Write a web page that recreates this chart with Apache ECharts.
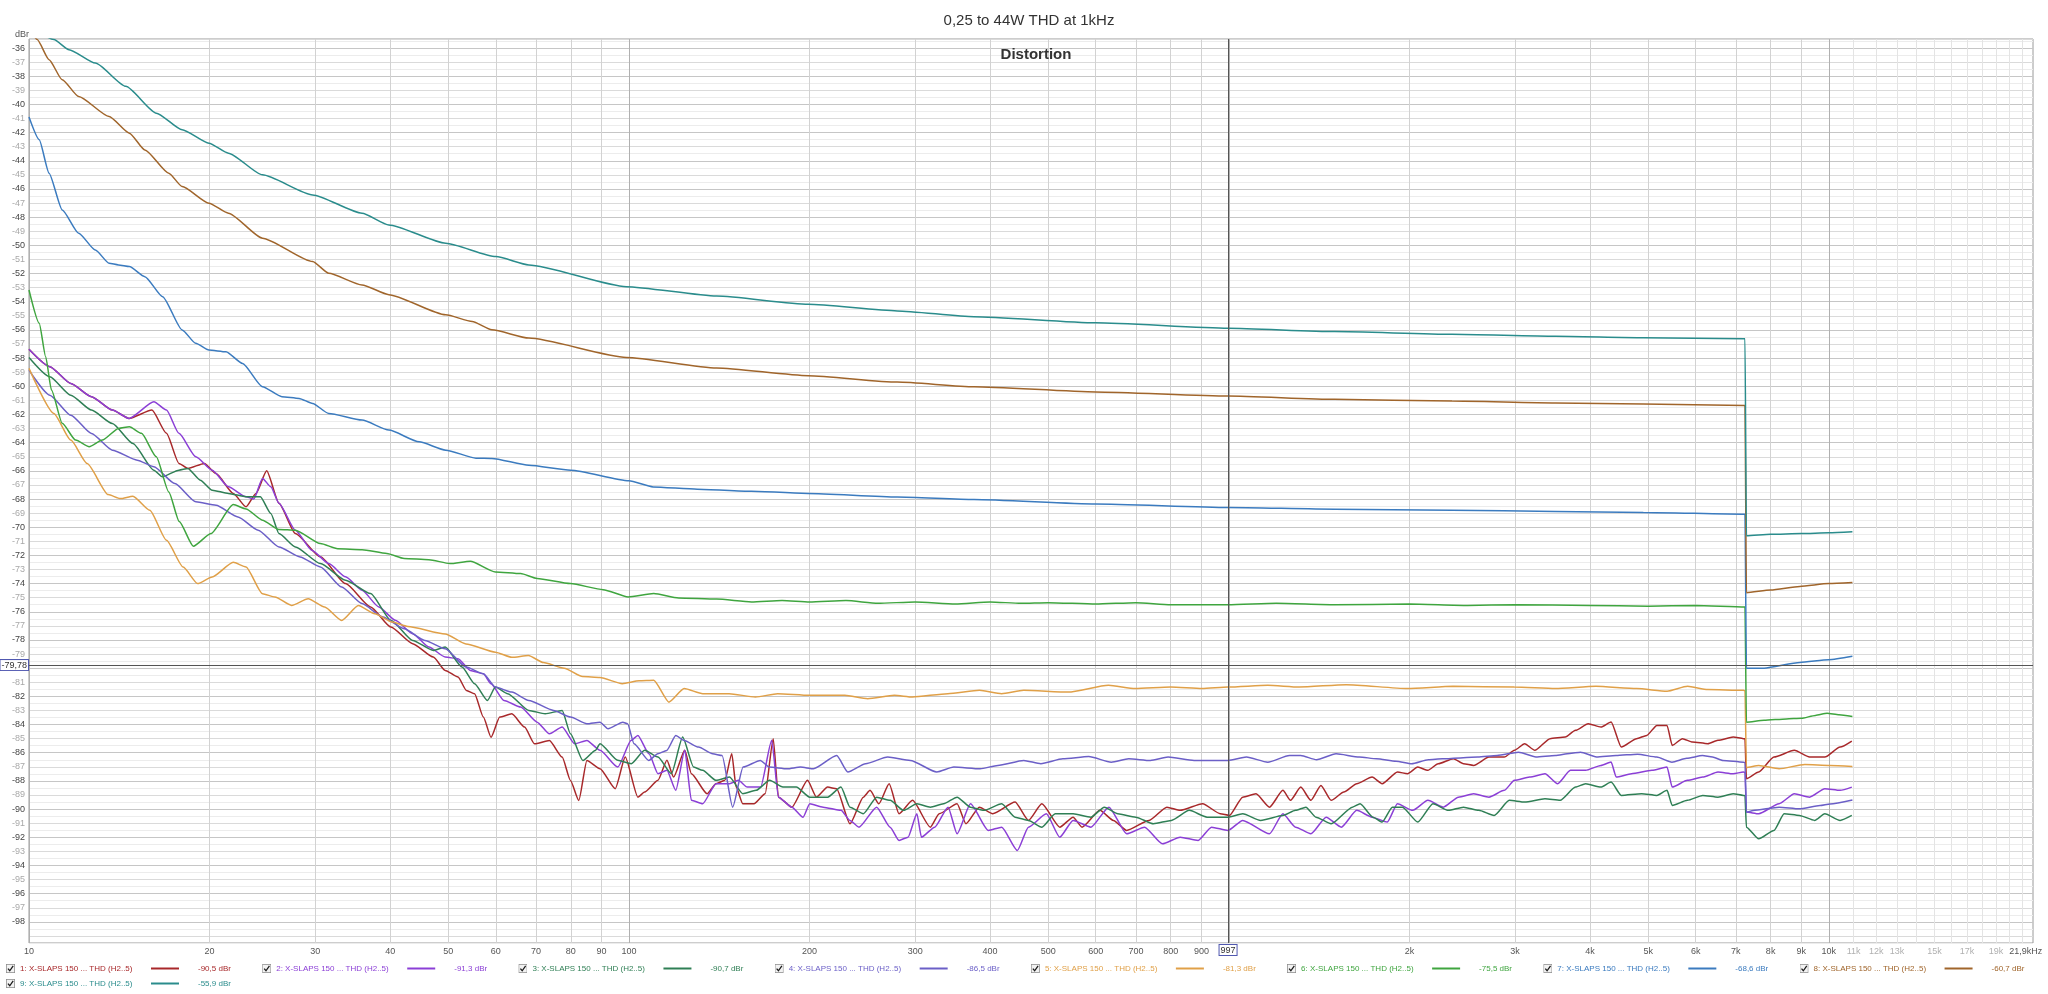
<!DOCTYPE html>
<html><head><meta charset="utf-8">
<script src="https://cdn.jsdelivr.net/npm/echarts@6/dist/echarts.min.js"></script>
<style>html,body{margin:0;padding:0;background:#fff}#c{width:2048px;height:994px}</style>
</head><body><div id="c"></div>
<script>
// ---------- data ----------
const seriesNames = [
  '1: X-SLAPS 150 ... THD (H2..5)','2: X-SLAPS 150 ... THD (H2..5)','3: X-SLAPS 150 ... THD (H2..5)',
  '4: X-SLAPS 150 ... THD (H2..5)','5: X-SLAPS 150 ... THD (H2..5)','6: X-SLAPS 150 ... THD (H2..5)',
  '7: X-SLAPS 150 ... THD (H2..5)','8: X-SLAPS 150 ... THD (H2..5)','9: X-SLAPS 150 ... THD (H2..5)'];
const legendValues = ['-90,5 dBr','-91,3 dBr','-90,7 dBr','-86,5 dBr','-81,3 dBr','-75,5 dBr','-68,6 dBr','-60,7 dBr','-55,9 dBr'];
const seriesColors = ['#a8282a','#8b3fd6','#2f7f55','#6b5fc7','#e0a048','#3fa53f','#3b7bbf','#a0652b','#2a8c8c'];

const freq1 = [10,10.83,11.74,12.71,13.77,14.68,16.03,16.95,17.78,18.4,19.6,20.5,21.9,23,23.9,24.9,26.1,27.8,30.6,33.7,37.1,40.1,43.6,47.2,49.4,51.9,53.6,55.3,57.2,58.9,60.9,63.8,67,69.6,73.7,77.4,79.9,82.5,85.1,
 89.5,94.9,98.6,103.5,106.2,111.8,115.7,118.7,123.9,127.1,135,139.7,144.5,148.4,150.9,154.8,161.6,168.7,174,177.5,186.9,198.5,205.4,214.4,221.9,233.6,245.9,252.3,261,271.5,282,297,318,329,352.4,364.6,383.8,404.1,440.3,463.4,487.9,522.6,550,569.3,609.6,642,675.6,736.1,788.3,829.8,904.3,967.9,1001.9,1054.7,1110,1169,1230.6,
 1267,1318,1370,1424,1481,1555,1634,1733,1801,1910,1986,2065,2147,2233,2367,2461,2559,2714,2878,2993,3112,3236,3431,3638,3783,3972,4171,4337,4510,4782,4972,5170,5376,5483,5702,5928,6286,6536,6931,7207,7250,7290,7642,8103,8762,9290,9850,10444,10925];
const db1 = [-57.38,-58.61,-59.8,-60.74,-61.69,-62.28,-61.69,-63.34,-65.47,-65.83,-65.47,-66.19,-67.6,-68.55,-67.6,-66.0,-68.3,-70.45,-72.1,-74.0,-75.66,-77.08,-78.26,-79.21,-80.16,-80.63,-81.58,-81.81,-83.47,-84.9,-83.47,-83.24,-84.18,-85.37,-85.13,-86.31,-87.97,-89.39,-86.55,
 -87.13,-88.55,-86.31,-89.15,-88.79,-87.96,-86.54,-87.73,-85.83,-87.49,-88.91,-88.2,-87.96,-86.07,-88.44,-89.62,-89.62,-88.91,-85.0,-89.15,-89.86,-87.96,-89.15,-88.44,-88.55,-91.04,-89.15,-88.67,-89.62,-88.2,-90.33,-89.38,-91.28,-90.33,-89.62,-91.04,-89.86,-90.33,-89.5,-90.8,-89.62,-91.28,-90.57,-91.28,-90.09,-90.8,-91.51,-90.8,-89.86,-90.09,-89.62,-90.33,-90.45,-89.15,-88.91,-89.86,-88.67,
 -89.38,-88.44,-89.38,-88.32,-89.38,-88.79,-88.2,-87.73,-88.2,-87.37,-87.49,-87.02,-87.25,-86.78,-86.42,-86.78,-86.9,-86.31,-86.31,-85.83,-85.36,-85.83,-85.0,-84.89,-84.41,-83.94,-84.18,-83.82,-85.6,-85.0,-84.77,-84.06,-84.06,-85.48,-85.0,-85.24,-85.36,-85.12,-84.89,-85.0,-85.0,-87.84,-87.37,-86.31,-85.83,-86.31,-86.31,-85.6,-85.17];

const freq2 = [10,10.83,11.74,12.71,13.77,14.68,16.15,16.95,17.78,18.97,20.2,21.5,23,23.7,24.5,25.3,26.1,27.8,29.6,31.6,33.7,35.9,38.3,40.8,43.6,46.4,49.4,51.9,54.4,57.2,58.9,61.9,66,70.3,73.7,77.4,81.2,85.1,
 89.5,95.8,100.9,103.5,108,111.8,115.7,119.7,123.9,127.1,132.7,139.7,147.1,152.2,157.5,165.8,173,177.5,186.9,195.1,200.2,210.7,225.7,233.6,241.8,258.8,272.5,282,291.9,302,307.3,323.4,340.4,352.4,371,397.2,418.2,444.1,463.4,496.4,522.6,550,589,631,675.6,723.6,775,829.8,888.8,935.7,996.8,1054.7,1169,1230.6,
 1292,1370,1453,1540,1634,1733,1837,1910,2025,2147,2277,2414,2559,2714,2878,2993,3173,3365,3533,3710,3933,4171,4337,4423,4691,5073,5376,5483,5814,6165,6536,6931,7207,7250,7290,7642,8263,8762,9290,9850,10444,10925];
const db2 = [-57.38,-58.61,-59.8,-60.74,-61.69,-62.28,-61.1,-61.69,-63.34,-65.0,-65.95,-67.13,-67.84,-68.0,-66.54,-67.13,-68.3,-70.21,-71.63,-72.58,-73.52,-74.47,-75.66,-76.6,-77.55,-78.5,-79.21,-79.33,-80.16,-80.4,-81.1,-82.29,-82.76,-83.83,-84.66,-84.18,-85.37,-85.13,
 -85.83,-87.02,-85.12,-84.77,-86.07,-87.49,-87.25,-88.67,-85.83,-89.38,-89.62,-88.2,-88.2,-87.96,-88.44,-88.44,-85.12,-89.15,-89.86,-90.57,-89.62,-89.86,-90.09,-90.8,-91.28,-89.86,-91.28,-92.22,-91.99,-90.33,-91.99,-91.28,-89.86,-91.75,-89.62,-91.51,-91.28,-92.93,-91.28,-90.33,-91.99,-90.8,-91.28,-89.86,-91.75,-91.28,-92.46,-91.99,-92.22,-91.28,-91.51,-90.8,-91.75,-90.33,
 -91.28,-91.75,-90.57,-91.28,-90.09,-90.57,-90.92,-89.62,-90.09,-89.38,-89.86,-89.15,-88.91,-89.15,-88.67,-87.96,-87.73,-87.49,-88.2,-87.25,-87.25,-86.9,-86.66,-87.73,-87.49,-87.25,-87.02,-88.44,-87.96,-87.73,-87.37,-87.49,-87.37,-87.4,-90.21,-90.33,-89.62,-88.91,-89.15,-88.55,-88.67,-88.44];

const freq3 = [10,10.83,11.74,12.71,13.77,14.9,16.15,16.68,17.78,18.4,19.3,20.2,21.5,23,24.3,25.3,26.1,27.8,30.6,33.7,37.1,40.1,43.6,47.2,49.4,52.7,55.3,58.1,59.9,62.8,68.1,72.5,77.4,79.9,83.8,87.9,
 89.5,95.8,100.9,106.2,111.8,117.7,122.9,128.2,132.7,139.7,147.1,154.8,162.9,171.6,180.6,190.1,200.2,214.4,225.7,233.6,245.9,258.8,272.5,286.9,302,318,334.6,352.4,371,390.5,418.2,440.3,463.4,487.9,513.6,550,589,620.1,652.9,699.3,748.8,802.1,858.9,919.7,996.8,1054.7,1129.6,1230.6,
 1292,1344,1397,1481,1607,1655,1739,1801,1873,1947,2065,2189,2322,2461,2610,2768,2935,3112,3365,3567,3783,3933,4171,4337,4510,4876,5170,5376,5483,5814,6165,6536,6931,7207,7250,7290,7642,8103,8426,8935,9474,9850,10444,10925];
const db3 = [-57.95,-59.32,-60.63,-61.69,-62.64,-64.06,-65.95,-66.42,-65.95,-65.83,-66.66,-67.37,-67.6,-67.84,-67.84,-69.03,-70.45,-71.4,-72.58,-73.76,-74.71,-76.6,-78.03,-78.74,-78.5,-79.92,-81.1,-82.29,-81.34,-81.81,-83.0,-83.24,-83.0,-84.66,-86.55,-85.84,
 -85.36,-86.54,-86.78,-85.83,-86.31,-87.49,-84.89,-87.02,-87.25,-87.96,-87.73,-88.91,-88.67,-87.96,-88.44,-88.44,-89.15,-89.15,-88.44,-89.86,-90.33,-89.15,-89.38,-90.09,-89.62,-89.86,-89.62,-89.15,-89.86,-90.09,-89.62,-90.57,-90.8,-91.28,-90.33,-90.33,-90.57,-89.86,-90.33,-90.57,-91.04,-90.8,-90.09,-90.57,-90.57,-90.33,-90.8,-90.45,
 -90.09,-89.86,-90.57,-91.04,-89.86,-89.62,-90.57,-90.92,-89.86,-89.86,-90.92,-89.62,-90.09,-89.86,-90.09,-90.45,-89.38,-89.5,-89.27,-89.38,-88.44,-88.2,-88.44,-88.08,-89.03,-88.91,-89.03,-88.67,-89.74,-89.38,-89.03,-89.15,-88.91,-89.03,-89.05,-91.28,-92.11,-91.51,-90.33,-90.45,-90.8,-90.33,-90.8,-90.45];

const freq4 = [10,10.83,11.74,12.71,13.77,15.15,16.15,17.5,18.97,20.5,22.3,24.1,26.1,28.3,30.6,33.2,35.9,38.9,42.2,45.7,49.4,53.5,57.2,59.9,63.8,68.1,74.9,79.9,85.1,
 89.5,92.3,97.7,99.5,102,107.9,111.7,115.6,119.7,123.6,130.6,137.9,143,148.9,155,165.6,171.4,183.6,193.2,203,222,231.7,248,270,294.5,326,348,385,412,455,486,529,584,637,681,740,792,875,997,1070,1161,1262,
 1318,1400,1509,1650,1763,1900,2018,2150,2270,2600,2800,3040,3250,3500,3700,3857,4100,4420,4800,5168,5478,5800,6160,6400,6660,7207,7250,7290,7480,8262,8932,9670,10050,10950];
const db4 = [-58.85,-60.63,-62.05,-63.35,-64.53,-65.24,-65.71,-66.9,-68.2,-68.44,-69.27,-70.21,-71.4,-72.11,-72.82,-74.24,-75.42,-76.37,-77.2,-78.03,-78.62,-79.92,-80.4,-81.34,-81.7,-82.29,-83.0,-83.47,-83.95,
 -83.83,-84.3,-83.83,-83.95,-85.37,-86.55,-86.08,-85.84,-84.78,-85.13,-85.6,-86.08,-86.2,-89.86,-87.02,-86.55,-87.02,-87.14,-87.02,-87.14,-86.2,-87.37,-86.78,-86.31,-86.55,-87.37,-87.02,-87.14,-86.9,-86.55,-86.78,-86.43,-86.27,-86.67,-86.43,-86.55,-86.31,-86.55,-86.55,-86.31,-86.67,-86.2,
 -86.2,-86.5,-86.08,-86.3,-86.43,-86.6,-86.78,-86.5,-86.43,-86.31,-86.2,-85.96,-86.3,-86.2,-86.05,-85.96,-86.3,-86.2,-86.1,-86.31,-86.67,-86.4,-86.2,-86.3,-86.55,-86.67,-86.7,-90.22,-90.1,-89.86,-89.98,-89.75,-89.63,-89.35];

const freq5 = [10,11,11.74,12.5,13.55,14.2,14.9,15.9,16.95,18.07,19.1,20.2,21.9,23,24.5,25.7,27.4,29.2,31.1,33.2,35.4,37.7,40.3,42.8,49.4,53.5,59.9,63.8,68,72,78,83.7,89.5,97.5,104,110,116.6,123.6,132.8,146.9,162.5,177,200,229,250,277,297,340,384,418,455,540,630,698,800,902,997,1161,1310,1570,1986,2366,2992,3500,4090,4784,5376,5815,6285,7207,7250,7290,7642,8263,9120,10050,10950];
const db5 = [-58.73,-61.93,-63.82,-65.48,-67.68,-67.97,-67.8,-68.8,-70.93,-72.83,-74.0,-73.53,-72.49,-72.82,-74.72,-74.95,-75.55,-75.07,-75.66,-76.61,-75.55,-76.14,-76.73,-77.04,-77.57,-78.28,-78.87,-79.23,-79.1,-79.6,-80.0,-80.6,-80.67,-81.1,-80.9,-80.86,-82.41,-81.45,-81.81,-81.81,-82.05,-81.81,-81.93,-81.93,-82.17,-81.93,-82.05,-81.81,-81.57,-81.81,-81.57,-81.7,-81.22,-81.45,-81.34,-81.45,-81.34,-81.22,-81.34,-81.17,-81.45,-81.29,-81.34,-81.45,-81.29,-81.45,-81.64,-81.29,-81.52,-81.57,-81.6,-87.05,-86.9,-87.14,-86.83,-86.9,-86.97];

const freq6 = [10,10.4,10.66,10.9,11.36,11.96,12.6,13.25,14.1,14.7,15.4,16.3,17.1,17.8,18.79,20.1,21.9,23,24.5,26.1,27.8,30.6,32.7,35.9,39.5,42.2,46.4,50.3,54.4,59.9,66,70.3,79.9,90.6,99.7,110,121,140,160,180,200,230,260,300,350,400,450,500,600,700,800,997,1200,1500,2000,2500,3000,4000,5000,6000,7250,7290,7800,8500,9000,9500,9935,10400,10950];
const db6 = [-53.17,-55.53,-57.9,-60.26,-62.63,-63.82,-64.29,-63.82,-62.99,-62.87,-63.34,-65.0,-67.5,-69.6,-71.35,-70.45,-68.39,-68.7,-69.5,-70.16,-70.21,-71.16,-71.52,-71.59,-71.87,-72.22,-72.3,-72.58,-72.41,-73.17,-73.29,-73.64,-74.0,-74.43,-74.95,-74.71,-75.02,-75.1,-75.3,-75.2,-75.3,-75.2,-75.4,-75.3,-75.45,-75.3,-75.4,-75.35,-75.45,-75.35,-75.5,-75.5,-75.4,-75.5,-75.45,-75.55,-75.5,-75.55,-75.6,-75.55,-75.66,-83.83,-83.7,-83.6,-83.56,-83.35,-83.2,-83.3,-83.43];

const freq7 = [10,10.4,10.8,11.36,12.1,12.9,13.6,14.1,14.7,15.6,16.7,18,18.96,19.95,21.3,22.7,24.5,26.4,28.2,29.7,31.6,35.9,39.8,44.7,49.5,55.6,59.1,68.1,80,100,109.7,130,160,199,280,376,600,997,1500,2355,3500,4908,7250,7290,7800,8949,10000,10950];
const db7 = [-40.9,-42.51,-44.88,-47.49,-49.14,-50.33,-51.27,-51.39,-51.51,-52.22,-53.64,-56.0,-56.95,-57.43,-57.55,-58.38,-60.03,-60.74,-60.86,-61.22,-61.93,-62.4,-63.11,-63.94,-64.53,-65.1,-65.12,-65.6,-65.95,-66.7,-67.14,-67.3,-67.45,-67.6,-67.85,-68.03,-68.35,-68.6,-68.72,-68.79,-68.88,-68.95,-69.08,-80.0,-80.0,-79.6,-79.4,-79.16];

const freq8 = [10,10.32,10.8,11.36,12.1,13.6,14.7,15.6,17.1,18,19.95,21.5,24.5,29.7,31.6,35.9,39.8,49.5,54.8,59.1,68.1,99,140,199,280,376,600,997,1500,2355,3500,4908,7250,7290,8000,8949,10000,10950];
const db8 = [-34.5,-35.4,-36.83,-38.25,-39.44,-40.86,-42.04,-43.23,-44.88,-45.83,-47.01,-47.72,-49.49,-51.15,-51.98,-52.81,-53.5,-54.93,-55.4,-55.99,-56.58,-57.95,-58.7,-59.25,-59.7,-60.03,-60.4,-60.69,-60.92,-61.05,-61.18,-61.26,-61.36,-74.65,-74.45,-74.2,-74.0,-73.93];

const freq9 = [10,11,11.66,12.9,14.5,16.3,18,19.95,21.5,24.5,29.7,35.9,39.8,49.5,60,68.1,99,140,199,280,376,600,997,1500,2355,3500,4908,7250,7290,8000,9000,10000,10950];
const db9 = [-34.3,-35.4,-36.12,-37.07,-38.72,-40.62,-41.8,-42.75,-43.46,-45.0,-46.42,-47.72,-48.55,-49.85,-50.8,-51.39,-52.93,-53.6,-54.18,-54.65,-55.06,-55.5,-55.89,-56.12,-56.31,-56.45,-56.55,-56.62,-70.6,-70.5,-70.45,-70.4,-70.33];

const xGridFreqs = [10,20,30,40,50,60,70,80,90,100,200,300,400,500,600,700,800,900,1000,2000,3000,4000,5000,6000,7000,8000,9000,10000,11000,12000,13000,14000,15000,16000,17000,18000,19000,20000,21000];
const xLabelFreqs = [10,20,30,40,50,60,70,80,90,100,200,300,400,500,600,700,800,900,2000,3000,4000,5000,6000,7000,8000,9000,10000,11000,12000,13000,15000,17000,19000];
const xEndLabel = '21,9kHz';
const cursorFreq = 997;
const cursorDb = -79.78;

// ---------- chart ----------
const FONT = "'Liberation Sans',Arial,sans-serif";
const freqs = [freq1,freq2,freq3,freq4,freq5,freq6,freq7,freq8,freq9];
const dbs = [db1,db2,db3,db4,db5,db6,db7,db8,db9];

const checkbox = 'image://data:image/svg+xml;charset=utf-8,' + encodeURIComponent(
  '<svg xmlns="http://www.w3.org/2000/svg" width="12" height="12"><rect x="0.5" y="0.5" width="11" height="11" fill="#f2f2f2" stroke="#8a8a8a"/><path d="M2.6 6.2 L5 9 L9.6 2.6" fill="none" stroke="#1a1a1a" stroke-width="1.7"/></svg>');

const rich = { s: { width: 19 }, e: { width: 1 } };
seriesColors.forEach((c, i) => {
  rich['t' + i] = { color: c, width: 131, fontSize: 8, fontFamily: FONT };
  rich['l' + i] = { backgroundColor: c, width: 28, height: 2, lineHeight: 11 };
  rich['v' + i] = { color: c, width: 58, fontSize: 8, fontFamily: FONT };
});
const legendFormatter = name => {
  const i = seriesNames.indexOf(name);
  return '{t' + i + '|' + name + '}{l' + i + '| }{s| }{v' + i + '|' + legendValues[i] + '}{e| }';
};
const legendBase = {
  icon: checkbox, itemWidth: 9, itemHeight: 9, itemGap: 4, selectedMode: false, padding: 0,
  orient: 'horizontal', formatter: legendFormatter, width: 2300,
  textStyle: { fontSize: 8, fontFamily: FONT, rich: rich }
};

const xSplitColors = xGridFreqs.map(f => ([10,100,1000,10000].indexOf(f) >= 0 ? '#b0b0b0' : (f > 10000 ? '#e4e4e4' : '#d2d2d2')));

const series = seriesNames.map((name, i) => ({
  name: name, type: 'line', showSymbol: false, smooth: 0.2, smoothMonotone: 'x',
  clip: true, z: 3,
  lineStyle: { color: seriesColors[i], width: 1.5 },
  itemStyle: { color: seriesColors[i] },
  data: freqs[i].map((f, k) => [f, dbs[i][k]])
}));
series[8].markLine = {
  silent: true, symbol: 'none', animation: false,
  lineStyle: { color: '#555', width: 1, type: 'solid' },
  label: { show: true, position: 'start', distance: 2, fontSize: 9, fontFamily: FONT, color: '#333',
    backgroundColor: '#fff', borderColor: '#5058b0', borderWidth: 1, padding: [1, 1, 0, 1] },
  data: [
    { xAxis: cursorFreq, label: { formatter: String(cursorFreq) } },
    { yAxis: cursorDb, label: { formatter: String(cursorDb).replace('.', ','), distance: 1 } }
  ]
};

const option = {
  animation: false,
  backgroundColor: '#fff',
  title: [
    { text: '0,25 to 44W THD at 1kHz', left: 1024, top: 8, textAlign: 'center',
      textStyle: { fontSize: 15, fontWeight: 'normal', color: '#333', fontFamily: FONT } },
    { text: 'Distortion', left: 1031, top: 42, textAlign: 'center',
      textStyle: { fontSize: 15, fontWeight: 'bold', color: '#333', fontFamily: FONT } }
  ],
  legend: [
    Object.assign({}, legendBase, { data: seriesNames.slice(0, 8), left: 6, top: 964 }),
    Object.assign({}, legendBase, { data: seriesNames.slice(8), left: 6, top: 979 })
  ],
  grid: { left: 29, right: 15, top: 39, bottom: 51, show: true, borderColor: '#9a9a9a', borderWidth: 1, backgroundColor: '#fff' },
  xAxis: {
    type: 'log', logBase: 10, min: 10, max: 21900,
    name: xEndLabel, nameLocation: 'end', nameGap: -27,
    nameTextStyle: { align: 'left', verticalAlign: 'top', fontSize: 9, color: '#555', fontFamily: FONT, padding: [4, 0, 0, 0] },
    axisLine: { show: false },
    axisTick: { show: false, customValues: xGridFreqs },
    axisLabel: {
      customValues: xLabelFreqs, margin: 4, fontSize: 9, fontFamily: FONT,
      formatter: v => { const r = Math.round(Number(v)); if (r >= 1000) return (r / 1000) + 'k'; return String(r); },
      color: v => (Math.round(Number(v)) > 10000 ? '#b0b0b0' : '#555')
    },
    splitLine: { show: true, lineStyle: { color: xSplitColors, width: 1 } }
  },
  yAxis: {
    type: 'value', min: -99.5, max: -35.36, interval: 0.5,
    name: 'dBr', nameLocation: 'end', nameGap: 0,
    nameTextStyle: { align: 'right', verticalAlign: 'bottom', fontSize: 9, color: '#555', fontFamily: FONT, padding: [0, 0, 0, 0] },
    axisLine: { show: false }, axisTick: { show: false },
    axisLabel: {
      margin: 4, fontSize: 9, fontFamily: FONT, showMinLabel: false, showMaxLabel: false,
      formatter: v => { const r = Math.round(Number(v) * 2) / 2; if (r !== Math.round(r)) return ''; const n = Math.round(r); if (n <= -99 || n > -36) return ''; return String(n); },
      color: v => (Math.round(Number(v)) % 2 === 0 ? '#444' : '#a8a8a8')
    },
    splitLine: { show: true, lineStyle: { color: ['#ececec', '#dadada', '#ececec', '#c6c6c6'], width: 1 } }
  },
  series: series
};
const chart = echarts.init(document.getElementById('c'), null, { renderer: 'canvas' });
chart.setOption(option);
</script></body></html>
